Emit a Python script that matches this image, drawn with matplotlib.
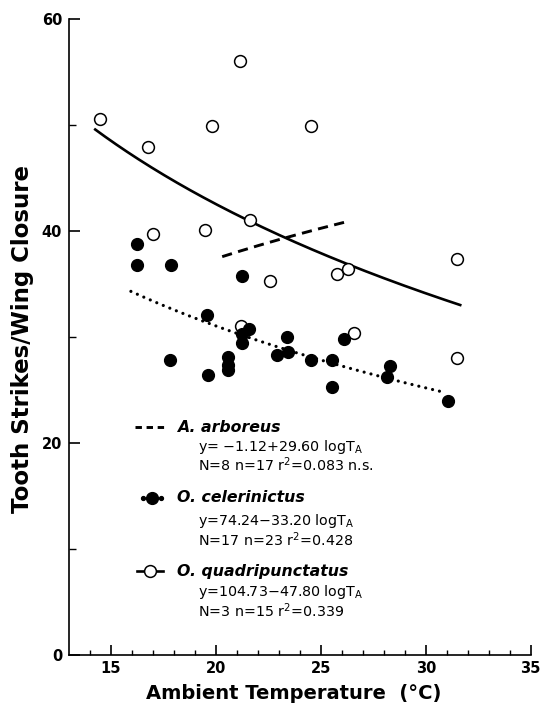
import numpy as np
import matplotlib
matplotlib.use("Agg")
import matplotlib.pyplot as plt
from matplotlib.lines import Line2D

# === Data ===
# O. quadripunctatus (open circles)
quad_temp = [14.5, 16.75, 19.83, 21.16, 24.52, 17.02, 19.5, 21.61,
             31.48, 22.58, 25.77, 26.31, 21.18, 26.58, 31.48]
quad_strikes = [50.6, 47.9, 49.9, 56.0, 49.9, 39.7, 40.1, 41.0,
                37.4, 35.25, 35.9, 36.4, 31.0, 30.4, 28.0]

# O. celerinictus (filled circles)
cel_temp = [16.22, 16.22, 17.85, 21.24, 19.56, 21.58, 21.26, 21.26,
            20.6, 20.6, 20.6, 17.83, 19.6, 22.9, 23.4, 23.45,
            24.53, 25.55, 25.55, 26.12, 28.3, 28.17, 31.05]
cel_strikes = [38.8, 36.8, 36.8, 35.8, 32.1, 30.75, 30.3, 29.4,
               28.15, 27.4, 26.9, 27.8, 26.4, 28.3, 30.0, 28.55,
               27.8, 27.8, 25.25, 29.85, 27.26, 26.26, 23.96]

# Regression fits y = a + b*log10(T), with the temperature range drawn
arb_fit = (-1.12, 29.60)
arb_range = (20.3, 26.15)
cel_fit = (74.24, -33.20)
cel_range = (15.95, 30.9)
quad_fit = (104.73, -47.80)
quad_range = (14.2, 31.7)

# Legend text
species = ["A. arboreus", "O. celerinictus", "O. quadripunctatus"]
equations = [r"y= $-$1.12+29.60 logT$_\mathregular{A}$",
             r"y=74.24$-$33.20 logT$_\mathregular{A}$",
             r"y=104.73$-$47.80 logT$_\mathregular{A}$"]
stats = [r"N=8 n=17 r$^\mathregular{2}$=0.083 n.s.",
         r"N=17 n=23 r$^\mathregular{2}$=0.428",
         r"N=3 n=15 r$^\mathregular{2}$=0.339"]

x_major = [15, 20, 25, 30, 35]
y_major = [0, 20, 40, 60]

# === Figure ===
fig = plt.figure(figsize=(5.44, 7.05), dpi=100)
ax = fig.add_axes([0.1268, 0.0709, 0.8488, 0.9021])


def fit_curve(fit, rng):
    t = np.linspace(rng[0], rng[1], 200)
    return t, fit[0] + fit[1] * np.log10(t)


t, y = fit_curve(quad_fit, quad_range)
ax.plot(t, y, color="black", lw=1.9, solid_capstyle="butt", zorder=2)
t, y = fit_curve(arb_fit, arb_range)
ax.plot(t, y, color="black", lw=2.1, dashes=(3.5, 2.2), zorder=2)
t, y = fit_curve(cel_fit, cel_range)
ax.plot(t, y, color="black", lw=2.3, dashes=(0.01, 2.2),
        dash_capstyle="round", zorder=2)

ax.plot(quad_temp, quad_strikes, "o", ms=8.5, mfc="white", mec="black",
        mew=1.1, ls="none", zorder=3)
ax.plot(cel_temp, cel_strikes, "o", ms=8.5, mfc="black", mec="black",
        ls="none", zorder=4)

# === Axes styling ===
ax.set_xlim(13, 35)
ax.set_ylim(0, 60)
for side in ["top", "right"]:
    ax.spines[side].set_visible(False)
for side in ["left", "bottom"]:
    ax.spines[side].set_linewidth(1.2)

ax.set_xticks(x_major)
ax.set_xticks(np.arange(14, 35), minor=True)
ax.set_yticks(y_major)
ax.set_yticks([10, 30, 50], minor=True)
ax.tick_params(axis="x", which="major", direction="in", length=7, width=1.2,
               pad=4, labelsize=10.5)
ax.tick_params(axis="x", which="minor", direction="in", length=3.5, width=1.0)
ax.tick_params(axis="y", which="major", direction="in", length=8, width=1.2,
               pad=5, labelsize=10.5)
ax.tick_params(axis="y", which="minor", direction="in", length=5, width=1.0)
for lab in ax.get_xticklabels() + ax.get_yticklabels():
    lab.set_fontweight("bold")

ax.set_xlabel("Ambient Temperature  (°C)", fontsize=14, fontweight="bold")
ax.set_ylabel("Tooth Strikes/Wing Closure", fontsize=16.5, fontweight="bold")
ax.xaxis.set_label_coords(0.486, -0.045)
ax.yaxis.set_label_coords(-0.076, 0.497)

# === Legend (drawn by hand) ===
tr = ax.transAxes
ax.add_line(Line2D([0.143, 0.214], [0.3585, 0.3585], transform=tr,
                   color="black", lw=2.1, dashes=(2.2, 1.6)))
ax.add_line(Line2D([0.160, 0.199], [0.247, 0.247], transform=tr,
                   marker="o", ms=2.8, mfc="black", mec="black", ls="none"))
ax.add_line(Line2D([0.180], [0.247], transform=tr, marker="o", ms=8.5,
                   mfc="black", mec="black", ls="none"))
ax.add_line(Line2D([0.147, 0.204], [0.132, 0.132], transform=tr,
                   color="black", lw=1.9))
ax.add_line(Line2D([0.175], [0.132], transform=tr, marker="o", ms=8.5,
                   mfc="white", mec="black", mew=1.1, ls="none"))

name_y = [0.3585, 0.247, 0.132]
eq_y = [0.327, 0.211, 0.099]
stat_y = [0.299, 0.181, 0.069]
for i in range(3):
    ax.text(0.234, name_y[i], species[i], transform=tr, fontsize=11.3,
            fontweight="bold", style="italic", va="center", ha="left")
    ax.text(0.279, eq_y[i], equations[i], transform=tr, fontsize=10.3,
            va="center", ha="left")
    ax.text(0.279, stat_y[i], stats[i], transform=tr, fontsize=10.3,
            va="center", ha="left")

fig.savefig("out.png", dpi=100)
